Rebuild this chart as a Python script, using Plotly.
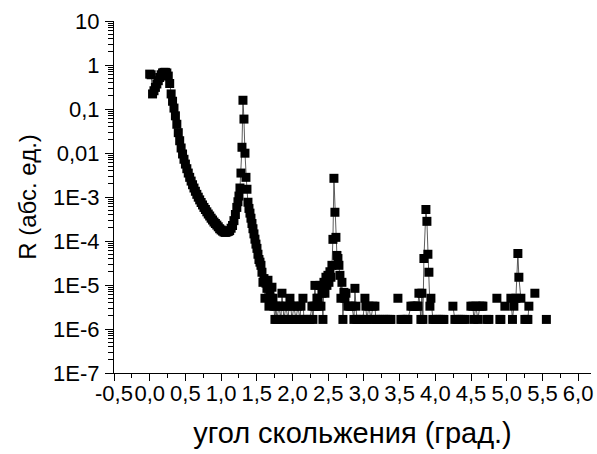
import plotly.graph_objects as go

# ---------------- data ----------------
# main curve: total reflection plateau and fall-off down to the Kiessig minimum
angle_main = [0.00, 0.02, 0.04, 0.06, 0.08, 0.10, 0.12, 0.14, 0.16, 0.18,
              0.20, 0.22, 0.24, 0.26, 0.28, 0.30, 0.32, 0.34, 0.36, 0.38,
              0.40, 0.42, 0.44, 0.46, 0.48, 0.50, 0.52, 0.54, 0.56, 0.58,
              0.60, 0.62, 0.64, 0.66, 0.68, 0.70, 0.72, 0.74, 0.76, 0.78,
              0.80, 0.82, 0.84, 0.86, 0.88, 0.90, 0.92, 0.94, 0.96, 0.98,
              1.00, 1.02, 1.04, 1.06, 1.08, 1.10, 1.12, 1.14, 1.16, 1.18,
              1.20, 1.22]
r_main = [0.62, 0.60, 0.22, 0.26, 0.31, 0.37, 0.44, 0.52, 0.60, 0.66,
          0.68, 0.68, 0.66, 0.56, 0.38, 0.22, 0.15, 0.105, 0.07, 0.045,
          0.029, 0.019, 0.013, 0.0095, 0.0072, 0.0056, 0.0044, 0.0035, 0.0028, 0.0023,
          0.0019, 0.0016, 0.00135, 0.00115, 0.00099, 0.00086, 0.00075, 0.00066, 0.00058, 0.00052,
          0.00046, 0.00041, 0.00037, 0.00033, 0.00030, 0.00027, 0.00025, 0.00023, 0.00021, 0.00019,
          0.000178, 0.000168, 0.000160, 0.000157, 0.000160, 0.000165, 0.000172, 0.000195, 0.000225, 0.00029,
          0.00040, 0.00058]

# first Bragg peak and its tail
angle_peak1 = [1.236, 1.250, 1.264, 1.278, 1.292, 1.306, 1.320, 1.334, 1.348, 1.362,
               1.376, 1.390, 1.404, 1.418, 1.432, 1.446, 1.460, 1.474, 1.488, 1.502,
               1.516, 1.530, 1.544, 1.558, 1.572, 1.586, 1.600, 1.614, 1.628, 1.642,
               1.656, 1.670, 1.684, 1.698, 1.712, 1.726, 1.740]
r_peak1 = [7.8e-4, 1.05e-3, 1.6e-3, 3.5e-3, 0.0135, 0.158, 0.059, 0.0099, 2.8e-3, 1.5e-3,
           7.6e-4, 5.5e-4, 4.3e-4, 3.3e-4, 2.5e-4, 1.9e-4, 1.45e-4, 1.1e-4, 8.5e-5, 6.8e-5,
           5.0e-5, 3.8e-5, 3.3e-5, 2.8e-5, 1.95e-5, 1.15e-5, 1.4e-5, 5.0e-6, 1.1e-5, 8.4e-6,
           1.28e-5, 3.3e-6, 6.8e-6, 5.0e-6, 8.9e-6, 5.0e-6, 3.3e-6]

# background and second Bragg peak
angle_peak2 = [1.754, 1.768, 1.782, 1.810, 1.838, 1.852, 1.866, 1.880, 1.908, 1.936,
               1.964, 1.978, 1.992, 2.020, 2.048, 2.076, 2.104, 2.118, 2.146, 2.160,
               2.188, 2.216, 2.244, 2.272, 2.286, 2.300, 2.314, 2.328, 2.342, 2.356,
               2.370, 2.384, 2.398, 2.412, 2.426, 2.440, 2.454, 2.468, 2.482, 2.496,
               2.510, 2.524, 2.538, 2.552, 2.566, 2.580, 2.594, 2.608, 2.622, 2.636,
               2.650, 2.664, 2.678, 2.692, 2.706, 2.720, 2.734, 2.748, 2.776, 2.804,
               2.832, 2.860, 2.874, 2.888, 2.902, 2.930, 2.958, 2.986, 3.014, 3.028,
               3.042, 3.070, 3.098, 3.126, 3.154, 3.168, 3.196, 3.224, 3.252, 3.280,
               3.308, 3.336, 3.364, 3.378, 3.420, 3.476, 3.497]
r_peak2 = [1.65e-6, 3.3e-6, 1.65e-6, 3.3e-6, 1.65e-6, 6.5e-6, 3.3e-6, 1.65e-6, 3.3e-6, 1.65e-6,
           5.0e-6, 3.3e-6, 1.65e-6, 3.3e-6, 1.65e-6, 3.3e-6, 1.65e-6, 3.3e-6, 5.0e-6, 1.65e-6,
           1.65e-6, 1.65e-6, 1.65e-6, 3.3e-6, 1.65e-6, 3.3e-6, 9.8e-6, 3.3e-6, 5.0e-6, 5.0e-6,
           3.3e-6, 9.8e-6, 3.3e-6, 6.5e-6, 1.65e-6, 1.15e-5, 6.5e-6, 1.5e-5, 9.8e-6, 1.66e-5,
           1.15e-5, 2.0e-5, 1.5e-5, 2.8e-5, 1.09e-4, 2.66e-3, 4.5e-4, 1.21e-4, 4.7e-5, 4.0e-5,
           2.8e-5, 1.66e-5, 5.0e-6, 1.15e-5, 1.65e-6, 6.8e-6, 5.0e-6, 6.5e-6, 3.3e-6, 3.3e-6,
           3.3e-6, 1.65e-6, 8.4e-6, 3.3e-6, 1.65e-6, 1.65e-6, 1.65e-6, 1.65e-6, 5.0e-6, 3.3e-6,
           1.65e-6, 3.3e-6, 1.65e-6, 3.3e-6, 3.3e-6, 1.65e-6, 1.65e-6, 1.65e-6, 1.65e-6, 1.65e-6,
           1.65e-6, 1.65e-6, 1.65e-6, 1.65e-6, None, 5.0e-6, None]

# background and third Bragg peak
angle_peak3 = [3.518, 3.546, 3.574, 3.602, 3.616, 3.658, 3.686, 3.714, 3.742, 3.756,
               3.770, 3.798, 3.812, 3.826, 3.840, 3.868, 3.882, 3.896, 3.910, 3.924,
               3.938, 3.966, 3.994, 4.022, 4.050, 4.078, 4.106, 4.120, 4.180, 4.246,
               4.274, 4.302, 4.330, 4.358, 4.386, 4.414, 4.456, 4.498, 4.526, 4.540,
               4.568, 4.596, 4.624, 4.652, 4.666, 4.694, 4.722, 4.750, 4.806, 4.862,
               4.883, 4.904, 4.918, 4.946, 4.974, 5.016]
r_peak3 = [1.65e-6, 1.65e-6, 1.65e-6, 1.65e-6, 1.65e-6, 3.3e-6, 3.3e-6, 3.3e-6, 3.3e-6, 3.3e-6,
           6.5e-6, 1.65e-6, 6.5e-6, 1.65e-6, 4.0e-5, 5.2e-4, 2.8e-4, 5.0e-5, 1.95e-5, 3.3e-6,
           5.0e-6, 1.65e-6, 1.65e-6, 1.65e-6, 1.65e-6, 1.65e-6, 1.65e-6, 1.65e-6, None, 3.3e-6,
           1.65e-6, 1.65e-6, 1.65e-6, 1.65e-6, 1.65e-6, 1.65e-6, None, 3.3e-6, 3.3e-6, 1.65e-6,
           3.3e-6, 1.65e-6, 3.3e-6, 3.3e-6, 3.3e-6, None, 1.65e-6, 1.65e-6, None, 5.0e-6,
           None, 1.65e-6, 1.65e-6, None, 3.3e-6, None]

# fourth Bragg peak and the end of the scan
angle_peak4 = [5.058, 5.080, 5.100, 5.128, 5.156, 5.170, 5.198, 5.226, 5.254, 5.282,
               5.296, 5.310, 5.352, 5.394, 5.470, 5.555]
r_peak4 = [5.0e-6, 1.65e-6, 3.3e-6, 5.0e-6, 5.2e-5, 1.5e-5, 5.0e-6, None, 1.65e-6, 1.65e-6,
           1.65e-6, 3.3e-6, None, 6.5e-6, None, 1.65e-6]

angle = angle_main + angle_peak1 + angle_peak2 + angle_peak3 + angle_peak4
refl = r_main + r_peak1 + r_peak2 + r_peak3 + r_peak4
assert len(angle) == len(refl)

x_tick_vals = [-0.5, 0.0, 0.5, 1.0, 1.5, 2.0, 2.5, 3.0, 3.5, 4.0, 4.5, 5.0, 5.5, 6.0]
x_tick_text = ["-0,5", "0,0", "0,5", "1,0", "1,5", "2,0", "2,5", "3,0", "3,5",
               "4,0", "4,5", "5,0", "5,5", "6,0"]
x_minor_vals = [-0.25, 0.25, 0.75, 1.25, 1.75, 2.25, 2.75, 3.25, 3.75, 4.25,
                4.75, 5.25, 5.75]
y_tick_vals = [1e-7, 1e-6, 1e-5, 1e-4, 1e-3, 1e-2, 1e-1, 1, 10]
y_tick_text = ["1E-7", "1E-6", "1E-5", "1E-4", "1E-3", "0,01", "0,1", "1", "10"]
y_minor_vals = [d * 10.0 ** e for e in range(-7, 1) for d in range(2, 10)]

x_title = "угол скольжения (град.)"
y_title = "R (абс. ед.)"

FONT = "Liberation Sans, Arial, sans-serif"

fig = go.Figure(
    go.Scatter(
        x=angle, y=refl, mode="lines+markers",
        marker=dict(symbol="square", size=9, color="black", line=dict(width=0)),
        line=dict(color="#333333", width=0.8),
        connectgaps=False, showlegend=False,
    )
)

axis_common = dict(
    showline=True, linecolor="black", linewidth=1, mirror=False,
    showgrid=False, zeroline=False, ticks="outside",
    tickwidth=1, tickcolor="black", automargin=False,
    tickfont=dict(family=FONT, size=22, color="black"),
)

fig.update_layout(
    width=597, height=454,
    margin=dict(l=114, r=6, t=21, b=81),
    paper_bgcolor="white", plot_bgcolor="white",
    font=dict(family=FONT, color="black"),
    xaxis=dict(
        range=[-0.5, 6.18], tickmode="array", tickvals=x_tick_vals,
        ticktext=x_tick_text, ticklen=7, ticklabelstandoff=-6, tickangle=0,
        minor=dict(tickmode="array", tickvals=x_minor_vals, ticks="outside",
                   ticklen=4, tickcolor="black", showgrid=False),
        title=dict(text=x_title, font=dict(family=FONT, size=29), standoff=17),
        **axis_common,
    ),
    yaxis=dict(
        type="log", range=[-7, 1], tickmode="array", tickvals=y_tick_vals,
        ticktext=y_tick_text, ticklen=8, ticklabelstandoff=1,
        minor=dict(tickmode="array", tickvals=y_minor_vals, ticks="outside",
                   ticklen=5, tickcolor="black", showgrid=False),
        title=dict(text=y_title, font=dict(family=FONT, size=24), standoff=9),
        **axis_common,
    ),
)

fig.write_html("out.html")
